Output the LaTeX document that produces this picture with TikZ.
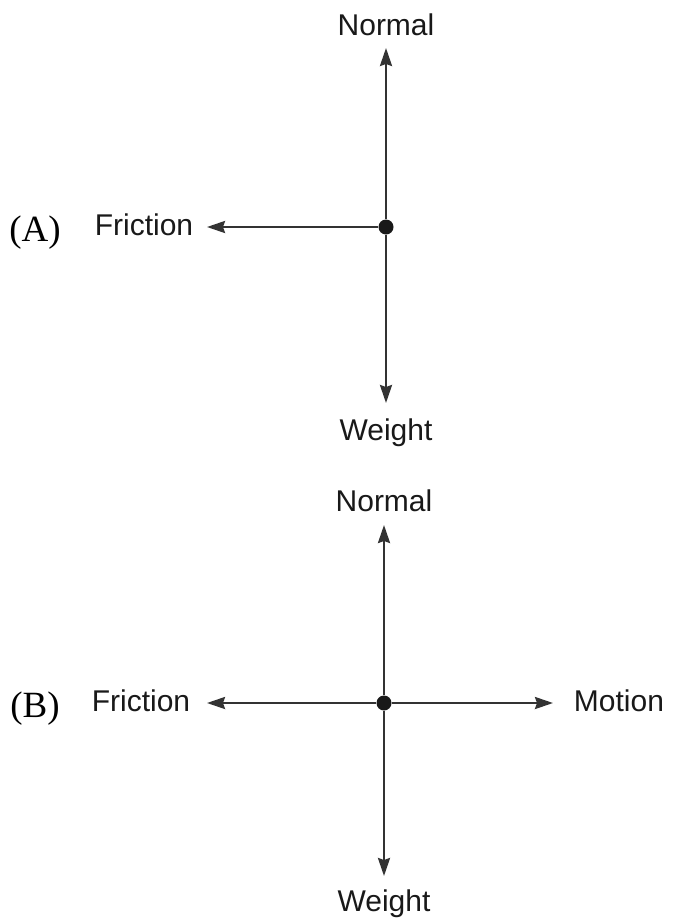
\documentclass[tikz,border=0pt]{standalone}
\usepackage{fontspec}
\newfontfamily\labelfont{Liberation Sans}
\newfontfamily\tagfont{Liberation Serif}
\usetikzlibrary{arrows.meta}
\begin{document}
\begin{tikzpicture}[x=1pt,y=-1pt,
  force/.style={draw=black!80, line width=2.4pt, -{Stealth[length=18pt,width=12pt,inset=2pt]}},
  lbl/.style={font=\labelfont\fontsize{30}{30}\selectfont, text=black!90, inner sep=0pt, anchor=base},
  tag/.style={font=\tagfont\fontsize{37}{37}\selectfont, inner sep=0pt, anchor=base},
  pt/.style={circle, fill=black!90, inner sep=0pt, minimum size=15pt}]
\useasboundingbox (0,0) rectangle (673,924);
% Diagram A
\node[pt] (dA) at (386,227) {};
\coordinate (nA) at (386,48);
\coordinate (wA) at (386,403);
\coordinate (fA) at (207,227);
\draw[force] (dA) -- (nA);
\draw[force] (dA) -- (wA);
\draw[force] (dA) -- (fA);
\node[lbl] (NA) at (386,35) {Normal};
\node[lbl] (WA) at (386,440) {Weight};
\node[lbl] (FA) at (144,235) {Friction};
\node[tag] (TA) at (35,241) {(A)};
% Diagram B
\node[pt] (dB) at (384,703) {};
\coordinate (nB) at (384,525);
\coordinate (wB) at (384,876);
\coordinate (fB) at (207,703);
\coordinate (mB) at (553,703);
\draw[force] (dB) -- (nB);
\draw[force] (dB) -- (wB);
\draw[force] (dB) -- (fB);
\draw[force] (dB) -- (mB);
\node[lbl] (NB) at (384,511) {Normal};
\node[lbl] (WB) at (384,911) {Weight};
\node[lbl] (FB) at (141,711) {Friction};
\node[lbl] (MB) at (619,711) {Motion};
\node[tag] (TB) at (35,717) {(B)};
\end{tikzpicture}
\end{document}
